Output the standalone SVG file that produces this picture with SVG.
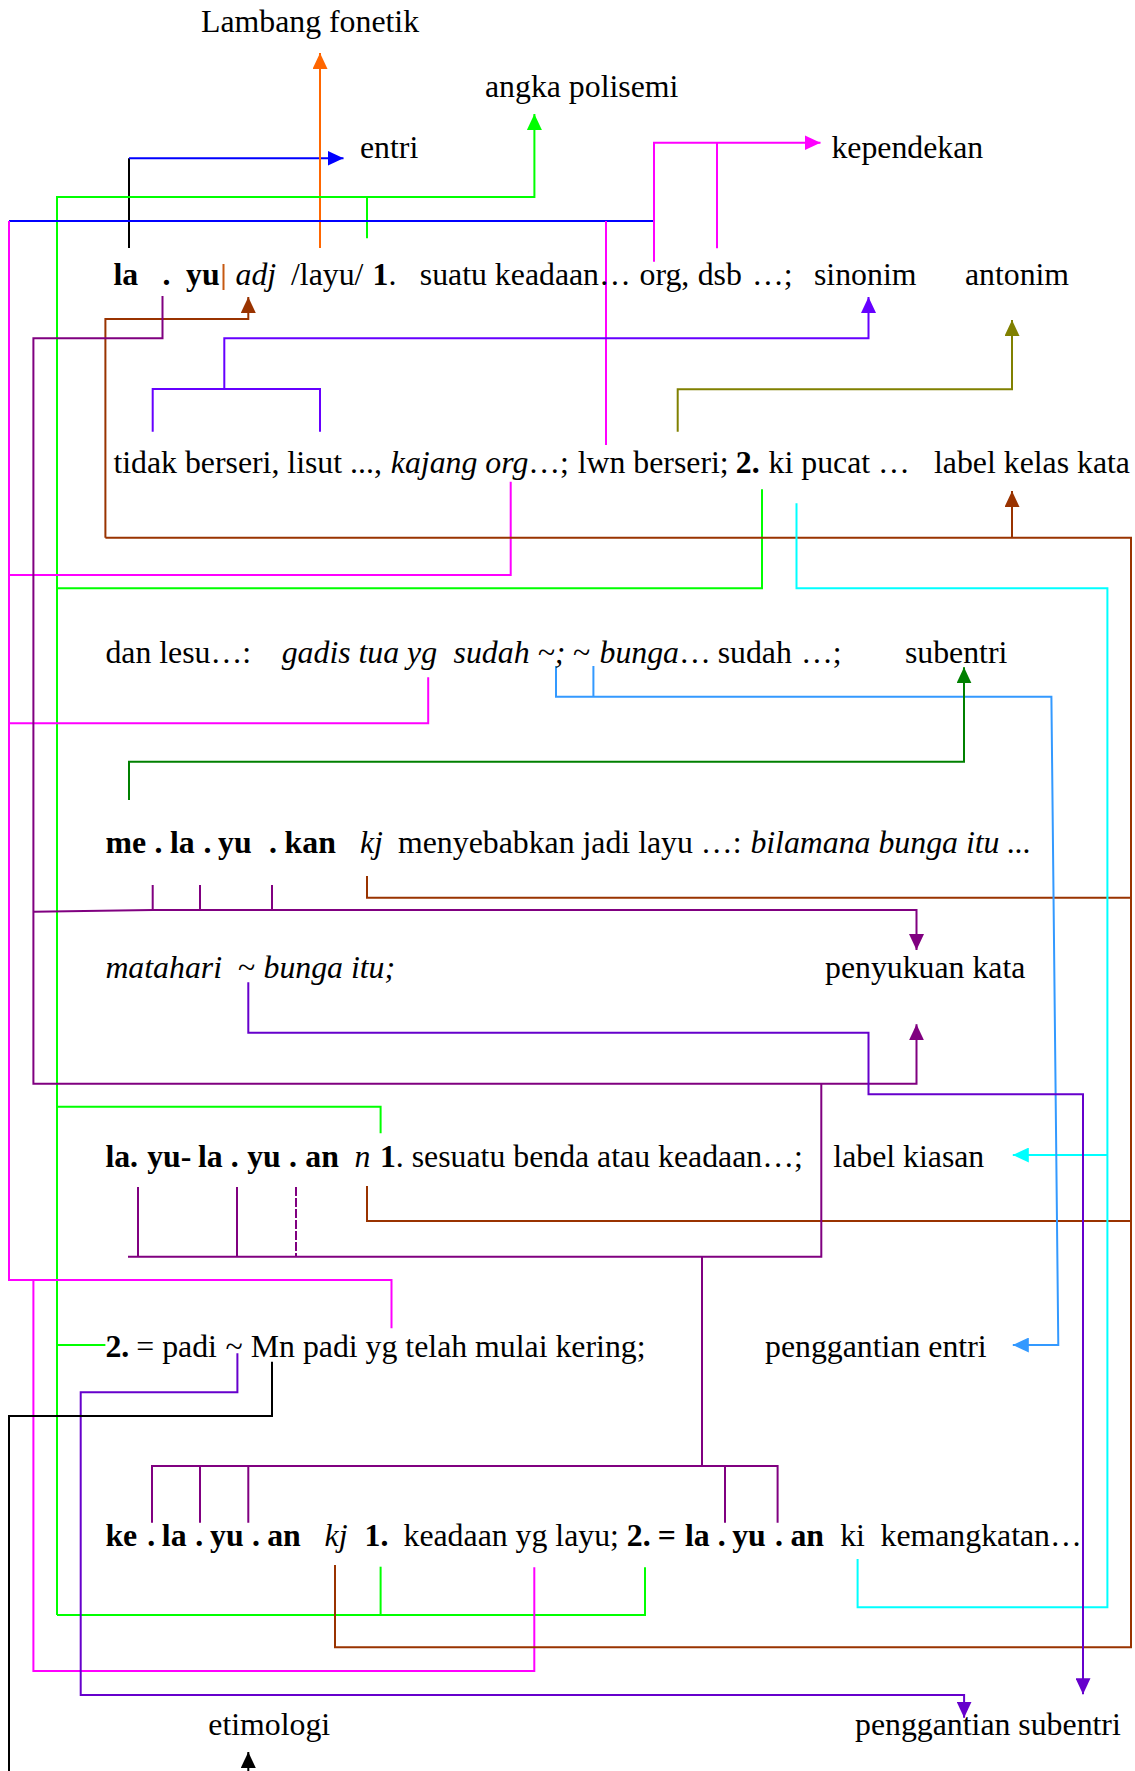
<svg xmlns="http://www.w3.org/2000/svg" width="1135" height="1771" viewBox="0 0 1135 1771">
<style>
text{font-family:"Liberation Serif","Times New Roman",serif;font-size:31.8px;fill:#000}
.b{font-weight:bold}
.i{font-style:italic}
#connectors path{fill:none;stroke-width:2}
.k{stroke:#000}
.or{stroke:#FF6600}
.bl{stroke:#0000FF}
.gr{stroke:#00FF00}
.mg{stroke:#FF00FF}
.br{stroke:#993300}
.vi{stroke:#6600FF}
.ol{stroke:#808000}
.cy{stroke:#00FFFF}
.lb{stroke:#3399FF}
.dg{stroke:#008000}
.pu{stroke:#800080}
.vc{stroke:#6600CC}
</style>
<defs>
<marker id="m-or" markerWidth="16" markerHeight="15" refX="16" refY="7.5" orient="auto" markerUnits="userSpaceOnUse"><path d="M0,0L16,7.5L0,15z" fill="#FF6600"/></marker>
<marker id="m-bl" markerWidth="16" markerHeight="15" refX="16" refY="7.5" orient="auto" markerUnits="userSpaceOnUse"><path d="M0,0L16,7.5L0,15z" fill="#0000FF"/></marker>
<marker id="m-gr" markerWidth="16" markerHeight="15" refX="16" refY="7.5" orient="auto" markerUnits="userSpaceOnUse"><path d="M0,0L16,7.5L0,15z" fill="#00FF00"/></marker>
<marker id="m-mg" markerWidth="16" markerHeight="15" refX="16" refY="7.5" orient="auto" markerUnits="userSpaceOnUse"><path d="M0,0L16,7.5L0,15z" fill="#FF00FF"/></marker>
<marker id="m-br" markerWidth="16" markerHeight="15" refX="16" refY="7.5" orient="auto" markerUnits="userSpaceOnUse"><path d="M0,0L16,7.5L0,15z" fill="#993300"/></marker>
<marker id="m-vi" markerWidth="16" markerHeight="15" refX="16" refY="7.5" orient="auto" markerUnits="userSpaceOnUse"><path d="M0,0L16,7.5L0,15z" fill="#6600FF"/></marker>
<marker id="m-ol" markerWidth="16" markerHeight="15" refX="16" refY="7.5" orient="auto" markerUnits="userSpaceOnUse"><path d="M0,0L16,7.5L0,15z" fill="#808000"/></marker>
<marker id="m-cy" markerWidth="16" markerHeight="15" refX="16" refY="7.5" orient="auto" markerUnits="userSpaceOnUse"><path d="M0,0L16,7.5L0,15z" fill="#00FFFF"/></marker>
<marker id="m-lb" markerWidth="16" markerHeight="15" refX="16" refY="7.5" orient="auto" markerUnits="userSpaceOnUse"><path d="M0,0L16,7.5L0,15z" fill="#3399FF"/></marker>
<marker id="m-dg" markerWidth="16" markerHeight="15" refX="16" refY="7.5" orient="auto" markerUnits="userSpaceOnUse"><path d="M0,0L16,7.5L0,15z" fill="#008000"/></marker>
<marker id="m-pu" markerWidth="16" markerHeight="15" refX="16" refY="7.5" orient="auto" markerUnits="userSpaceOnUse"><path d="M0,0L16,7.5L0,15z" fill="#800080"/></marker>
<marker id="m-vc" markerWidth="16" markerHeight="15" refX="16" refY="7.5" orient="auto" markerUnits="userSpaceOnUse"><path d="M0,0L16,7.5L0,15z" fill="#6600CC"/></marker>
<marker id="m-k" markerWidth="16" markerHeight="15" refX="16" refY="7.5" orient="auto" markerUnits="userSpaceOnUse"><path d="M0,0L16,7.5L0,15z" fill="#000"/></marker>
</defs>
<rect width="1135" height="1771" fill="#fff"/>

<g id="connectors">
  <!-- entri / lambang fonetik -->
  <path class="k" d="M129,248V158.3"/>
  <path class="bl" d="M129,158.3H343.5" marker-end="url(#m-bl)"/>
  <path class="or" d="M320,248V53" marker-end="url(#m-or)"/>
  <!-- angka polisemi (green) -->
  <path class="gr" d="M57,1615V197H534.4V114" marker-end="url(#m-gr)"/>
  <path class="gr" d="M367,197V238.3"/>
  <path class="gr" d="M57,588.3H762V489.3"/>
  <path class="gr" d="M57,1106.7H380.6V1133.3"/>
  <path class="gr" d="M57,1345H105.4"/>
  <path class="gr" d="M57,1615H645V1567.3"/>
  <path class="gr" d="M380.6,1566.7V1615"/>
  <!-- blue rail -->
  <path class="bl" d="M9,221H654"/>
  <!-- kependekan (magenta) -->
  <path class="mg" d="M654,261.7V142.7H820.5" marker-end="url(#m-mg)"/>
  <path class="mg" d="M717,142.7V248.3"/>
  <path class="mg" d="M606,221V445"/>
  <path class="mg" d="M9,221V1280H391.5V1328.3"/>
  <path class="mg" d="M9,575H510.7V481.7"/>
  <path class="mg" d="M9,723.3H428.2V677.3"/>
  <path class="mg" d="M33.4,1280V1671H534.3V1567.3"/>
  <!-- label kelas kata (brown) -->
  <path class="br" d="M105.4,537.7V319H248.3V297" marker-end="url(#m-br)"/>
  <path class="br" d="M105.4,537.7H1131V1647.3H335V1565"/>
  <path class="br" d="M1012,537.7V491" marker-end="url(#m-br)"/>
  <path class="br" d="M367,876V897.7H1131"/>
  <path class="br" d="M367,1186V1221H1131"/>
  <!-- sinonim -->
  <path class="vi" d="M152.7,431.7V389H320V431.7"/>
  <path class="vi" d="M224.3,389V338.3H868.5V297" marker-end="url(#m-vi)"/>
  <!-- antonim -->
  <path class="ol" d="M677.7,431.7V389.3H1012V320" marker-end="url(#m-ol)"/>
  <!-- label kiasan (cyan) -->
  <path class="cy" d="M796.5,503.3V588.3H1107.4V1607.3H857.6V1559"/>
  <path class="cy" d="M1107.4,1155H1012.8" marker-end="url(#m-cy)"/>
  <!-- penggantian entri -->
  <path class="lb" d="M556,666V696.7H1051.4L1058.3,1345H1012.8" marker-end="url(#m-lb)"/>
  <path class="lb" d="M593.4,666V696.7"/>
  <!-- subentri -->
  <path class="dg" d="M129,800V761.7H964V667.3" marker-end="url(#m-dg)"/>
  <!-- penyukuan kata (purple) -->
  <path class="pu" d="M162.5,296V338.3H33.4V1083.7H916.5V1024.3" marker-end="url(#m-pu)"/>
  <path class="pu" d="M152.7,885V910M200,885V910M272,885V910"/>
  <path class="pu" d="M33.4,911.7L152.7,910H916.5V950" marker-end="url(#m-pu)"/>
  <path class="pu" d="M821.3,1083.7V1256.7H128"/>
  <path class="pu" d="M138,1187V1256.7M237,1187V1256.7"/>
  <path class="pu" d="M296,1187V1256.7" stroke-dasharray="9 2"/>
  <path class="pu" d="M702,1256.7V1466"/>
  <path class="pu" d="M152,1522.7V1466H777.6V1522.7"/>
  <path class="pu" d="M200,1466V1522.7M248.3,1466V1522.7M725,1466V1522.7"/>
  <!-- penggantian subentri -->
  <path class="vc" d="M248.3,982.3V1032.7H868.5V1094.3H1083V1694.3" marker-end="url(#m-vc)"/>
  <path class="vc" d="M237.4,1353.3V1392.3H80.7V1695H964.1V1717.7" marker-end="url(#m-vc)"/>
  <!-- etimologi -->
  <path class="k" d="M272,1361.7V1416H9V1771"/>
  <path class="k" d="M248.3,1790V1752" marker-end="url(#m-k)"/>
</g>

<g id="entry-layu">
  <text y="285"><tspan class="b" x="113.4">la</tspan><tspan class="b" x="162.5">.</tspan><tspan class="b" x="186">yu</tspan><tspan class="i" x="235.5">adj</tspan><tspan x="291">/layu/</tspan><tspan class="b" x="372.6">1</tspan><tspan>.</tspan><tspan x="419.8">suatu keadaan…</tspan><tspan x="639.5">org,</tspan><tspan x="697.7">dsb</tspan><tspan x="752">…;</tspan></text>
  <line x1="223.5" y1="264" x2="223.5" y2="290" stroke="#C65911" stroke-width="2"/>
</g>
<g id="entry-line2">
  <text y="473.3"><tspan x="113.4">tidak berseri, lisut ...,</tspan><tspan class="i" x="390.8">kajang org</tspan><tspan>…;</tspan><tspan x="577.7">lwn berseri;</tspan><tspan class="b" x="735.8">2.</tspan><tspan x="768.6">ki pucat …</tspan></text>
</g>
<g id="entry-line3">
  <text y="663.3"><tspan x="105.4">dan lesu…:</tspan><tspan class="i" x="281.7">gadis tua yg</tspan><tspan class="i" x="453.6">sudah ~;</tspan><tspan x="573">~</tspan><tspan class="i" x="599.5">bunga</tspan><tspan>…</tspan><tspan x="717.7">sudah</tspan><tspan x="801">…;</tspan></text>
</g>
<g id="entry-melayukan">
  <text y="853.3"><tspan class="b" x="105.4">me</tspan><tspan class="b" x="154.5">.</tspan><tspan class="b" x="170">la</tspan><tspan class="b" x="203.6">.</tspan><tspan class="b" x="218">yu</tspan><tspan class="b" x="269">.</tspan><tspan class="b" x="284.6">kan</tspan><tspan class="i" x="359.9">kj</tspan><tspan x="398">menyebabkan jadi layu …:</tspan><tspan class="i" x="750.4">bilamana bunga itu ...</tspan></text>
</g>
<g id="entry-line5">
  <text y="978.3"><tspan class="i" x="105.4">matahari</tspan><tspan x="238">~</tspan><tspan class="i" x="263.5">bunga itu;</tspan></text>
</g>
<g id="entry-layulayuan">
  <text y="1166.7"><tspan class="b" x="105.4">la.</tspan><tspan class="b" x="147.2">yu-</tspan><tspan class="b" x="198">la</tspan><tspan class="b" x="230.8">.</tspan><tspan class="b" x="247.2">yu</tspan><tspan class="b" x="289">.</tspan><tspan class="b" x="305.3">an</tspan><tspan class="i" x="354.4">n</tspan><tspan class="b" x="379.9">1</tspan><tspan>. sesuatu benda atau keadaan…;</tspan></text>
</g>
<g id="entry-line7">
  <text y="1356.7"><tspan class="b" x="105.4">2.</tspan><tspan x="136.3">= padi</tspan><tspan x="225.4">~</tspan><tspan x="250.8">Mn padi yg telah mulai kering;</tspan></text>
</g>
<g id="entry-kelayuan">
  <text y="1545.7"><tspan class="b" x="105.4">ke</tspan><tspan class="b" x="147.2">.</tspan><tspan class="b" x="161.8">la</tspan><tspan class="b" x="195.2">.</tspan><tspan class="b" x="210">yu</tspan><tspan class="b" x="252">.</tspan><tspan class="b" x="267.2">an</tspan><tspan class="i" x="324.6">kj</tspan><tspan class="b" x="364.6">1.</tspan><tspan x="403.5">keadaan yg layu;</tspan><tspan class="b" x="626.8">2.</tspan><tspan class="b" x="657.7">=</tspan><tspan class="b" x="685">la</tspan><tspan class="b" x="717.7">.</tspan><tspan class="b" x="732.2">yu</tspan><tspan class="b" x="775">.</tspan><tspan class="b" x="790.4">an</tspan><tspan x="840.2">ki</tspan><tspan x="880.5">kemangkatan…</tspan></text>
</g>

<g id="label-lambang-fonetik"><text x="201" y="32">Lambang fonetik</text></g>
<g id="label-angka-polisemi"><text x="485" y="96.7">angka polisemi</text></g>
<g id="label-entri"><text x="360" y="158.3">entri</text></g>
<g id="label-kependekan"><text x="831.4" y="158">kependekan</text></g>
<g id="label-sinonim"><text x="814" y="285">sinonim</text></g>
<g id="label-antonim"><text x="964.9" y="285">antonim</text></g>
<g id="label-kelas-kata"><text x="934" y="473.3">label kelas kata</text></g>
<g id="label-subentri"><text x="904.9" y="663.3">subentri</text></g>
<g id="label-penyukuan"><text x="825" y="978.3">penyukuan kata</text></g>
<g id="label-kiasan"><text x="833.3" y="1166.7">label kiasan</text></g>
<g id="label-penggantian-entri"><text x="765" y="1356.7">penggantian entri</text></g>
<g id="label-etimologi"><text x="208.3" y="1735">etimologi</text></g>
<g id="label-penggantian-subentri"><text x="855" y="1735">penggantian subentri</text></g>
</svg>
